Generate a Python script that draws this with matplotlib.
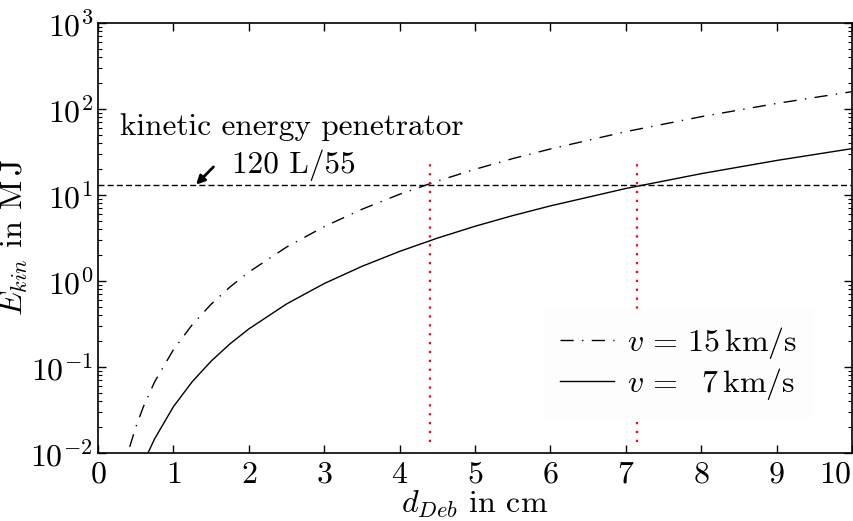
import matplotlib
matplotlib.use("Agg")
import matplotlib.pyplot as plt
from matplotlib.ticker import LogLocator, NullFormatter

plt.rcParams["font.family"] = "serif"
plt.rcParams["font.serif"] = ["cmr10", "DejaVu Serif"]
plt.rcParams["mathtext.fontset"] = "cm"
plt.rcParams["axes.formatter.use_mathtext"] = True
plt.rcParams["axes.unicode_minus"] = False

# debris diameter (cm) and kinetic energy (MJ)
d_fast = [0.42, 0.5, 0.6, 0.75, 1, 1.25, 1.5, 1.75, 2, 2.5, 3, 3.5, 4, 4.5,
          5, 5.5, 6, 7, 8, 9, 10]
e_fast = [0.0118, 0.0199, 0.0343, 0.0671, 0.159, 0.311, 0.537, 0.852, 1.27,
          2.48, 4.29, 6.82, 10.2, 14.5, 19.9, 26.5, 34.3, 54.5, 81.4, 116, 159]
d_slow = [0.65, 0.75, 1, 1.25, 1.5, 1.75, 2, 2.5, 3, 3.5, 4, 4.5, 5, 5.5, 6,
          7, 8, 9, 10]
e_slow = [0.0095, 0.0146, 0.0346, 0.0676, 0.117, 0.186, 0.277, 0.541, 0.934,
          1.48, 2.21, 3.15, 4.33, 5.76, 7.47, 11.9, 17.7, 25.2, 34.6]

e_penetrator = 13.0          # 120 L/55 KE round
d_cross = [4.4, 7.15]        # diameters reaching that energy

FS = 23

fig = plt.figure(figsize=(8.54, 5.21), dpi=100)
ax = fig.add_axes([0.1148, 0.1305, 0.8829, 0.8254])

ax.plot(d_fast, e_fast, color="black", lw=1.0, dashes=(9.5, 6, 1, 6),
        label=r"$v\,=\,15\,\mathrm{km/s}$")
ax.plot(d_slow, e_slow, color="black", lw=1.0,
        label=r"$v\,=\,\enspace 7\,\mathrm{km/s}$")
ax.axhline(e_penetrator, color="black", lw=1.0, dashes=(4.3, 2.3))
ax.vlines(d_cross, 0.0134, 25.5, color="red", lw=1.6, linestyles=(0, (1, 3)))

ax.text(0.29, 50, "kinetic energy penetrator", fontsize=22.5, va="baseline")
ax.text(1.78, 18.0, "120 L/55", fontsize=22.5, va="baseline")
ax.annotate("", xy=(1.30, 13.2), xytext=(1.53, 21.2),
            arrowprops=dict(arrowstyle="-|>,head_length=0.5,head_width=0.25",
                            color="black", lw=2.0, shrinkA=0, shrinkB=0))

ax.set_yscale("log")
ax.set_xlim(0, 10)
ax.set_ylim(1e-2, 1e3)
ax.set_xticks(range(0, 11))
ax.yaxis.set_minor_locator(LogLocator(base=10, subs=range(2, 10), numticks=20))
ax.yaxis.set_minor_formatter(NullFormatter())

ax.tick_params(which="both", direction="in", top=True, right=True,
               labelsize=FS)
ax.tick_params(which="major", length=6, width=1)
ax.tick_params(which="minor", length=3, width=0.8)
ax.tick_params(axis="x", pad=6)
for s in ax.spines.values():
    s.set_linewidth(1.2)

# last x label sits flush with the right spine
fig.canvas.draw()
ax.get_xticklabels()[-1].set_horizontalalignment("right")

ax.set_xlabel(r"$d_{Deb}$ in cm", fontsize=FS, labelpad=0)
ax.set_ylabel(r"$E_{kin}$ in $\mathrm{M\,J}$", fontsize=FS, labelpad=0)

leg = ax.legend(loc="center", bbox_to_anchor=(0.77, 0.208), fontsize=FS,
                frameon=True, fancybox=False, handlelength=1.7,
                handletextpad=0.4, labelspacing=0.15, borderpad=0.5)
leg.get_frame().set_facecolor("#fdfdfd")
leg.get_frame().set_edgecolor("none")
leg.get_frame().set_alpha(1.0)

fig.savefig("out.png", dpi=100)
